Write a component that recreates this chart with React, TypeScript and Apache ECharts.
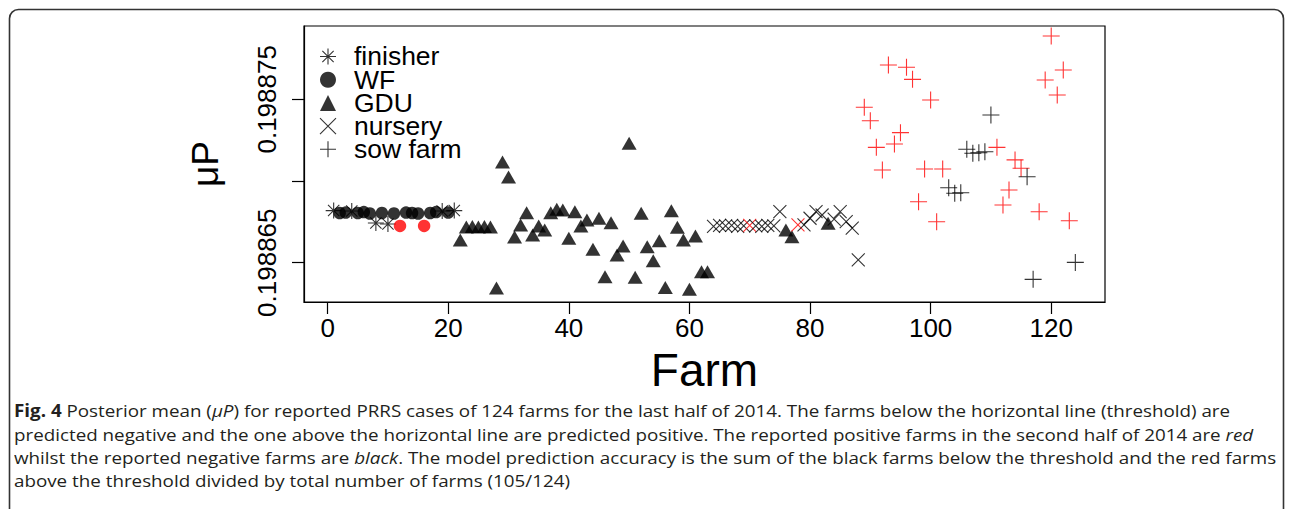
import React, { useEffect, useRef } from 'react';
import * as echarts from 'echarts';

// ---------- data ----------
const categories = ['finisher', 'WF', 'GDU', 'nursery', 'sow farm'];
const xTicks = [0, 20, 40, 60, 80, 100, 120];
const yTicks = [0.198865, 0.19887, 0.198875];
const yTickLabels = [0.198865, 0.198875];
const threshold = 0.19886816;

const finisherFarm = [1, 4, 8, 10, 19, 21];
const finisherMu = [0.19886819, 0.19886816, 0.19886743, 0.19886737, 0.19886816, 0.19886819];
const finisherRed: number[] = [];

const wfFarm = [2, 3, 5, 6, 7, 9, 11, 12, 13, 14, 15, 16, 17, 18, 20];
const wfMu = [0.19886804, 0.19886807, 0.19886804, 0.1988681, 0.19886801, 0.19886804, 0.19886801, 0.19886725,
  0.19886807, 0.19886804, 0.19886801, 0.19886725, 0.19886804, 0.1988681, 0.19886807];
const wfRed = [12, 16];

const gduFarm = [22, 23, 24, 25, 26, 27, 28, 29, 30, 31, 32, 33, 34, 35, 36, 37, 38, 39, 40, 41, 42, 43, 44, 45,
  46, 47, 48, 49, 50, 51, 52, 53, 54, 55, 56, 57, 58, 59, 60, 61, 62, 63, 76, 77, 83];
const gduMu = [0.19886639, 0.19886718, 0.19886722, 0.19886718, 0.19886722, 0.19886718, 0.19886345, 0.19887116,
  0.19887024, 0.19886657, 0.19886731, 0.19886806, 0.1988667, 0.19886725, 0.198867, 0.19886806, 0.19886827,
  0.19886823, 0.19886649, 0.19886812, 0.19886725, 0.19886761, 0.19886582, 0.19886772, 0.19886414, 0.19886745,
  0.19886547, 0.19886602, 0.19887231, 0.19886411, 0.19886802, 0.19886598, 0.19886512, 0.19886635, 0.19886349,
  0.19886818, 0.19886717, 0.19886639, 0.19886337, 0.19886663, 0.19886445, 0.19886445, 0.198867, 0.19886659,
  0.19886741];
const gduRed: number[] = [];

const nurseryFarm = [64, 65, 66, 67, 68, 69, 70, 71, 72, 73, 74, 75, 78, 79, 80, 81, 82, 84, 85, 86, 87, 88];
const nurseryMu = [0.19886722, 0.19886728, 0.19886725, 0.19886728, 0.19886722, 0.19886725, 0.19886728,
  0.19886725, 0.19886722, 0.19886728, 0.19886725, 0.19886812, 0.19886731, 0.19886731, 0.19886772, 0.19886812,
  0.19886792, 0.19886767, 0.19886812, 0.19886751, 0.19886711, 0.19886517];
const nurseryRed = [70, 78];

const sowFarm = [89, 90, 91, 92, 93, 94, 95, 96, 97, 98, 99, 100, 101, 102, 103, 104, 105, 106, 107, 108, 109,
  110, 111, 112, 113, 114, 115, 116, 117, 118, 119, 120, 121, 122, 123, 124];
const sowMu = [0.19887451, 0.19887369, 0.19887206, 0.19887067, 0.1988771, 0.19887226, 0.19887296, 0.19887696,
  0.19887622, 0.19886873, 0.19887073, 0.19887496, 0.19886751, 0.19887073, 0.19886959, 0.19886925, 0.19886928,
  0.19887194, 0.1988717, 0.19887173, 0.19887179, 0.19887404, 0.19887206, 0.19886853, 0.19886945, 0.19887129,
  0.19887078, 0.19887026, 0.19886398, 0.19886812, 0.19887618, 0.19887887, 0.19887526, 0.19887679, 0.19886757,
  0.19886502];
const sowRed = [89, 90, 91, 92, 93, 94, 95, 96, 97, 98, 99, 100, 101, 102, 111, 112, 113, 114, 115, 118, 119,
  120, 121, 122, 123];

// caption lines: [plain | bold | italic] segments
type Seg = { t: string; b?: boolean; i?: boolean };
const captionLines: Seg[][] = [
  [{ t: 'Fig. 4', b: true }, { t: ' Posterior mean (' }, { t: 'μP', i: true },
    { t: ') for reported PRRS cases of 124 farms for the last half of 2014. The farms below the horizontal line (threshold) are' }],
  [{ t: 'predicted negative and the one above the horizontal line are predicted positive. The reported positive farms in the second half of 2014 are ' },
    { t: 'red', i: true }],
  [{ t: 'whilst the reported negative farms are ' }, { t: 'black', i: true },
    { t: '. The model prediction accuracy is the sum of the black farms below the threshold and the red farms' }],
  [{ t: 'above the threshold divided by total number of farms (105/124)' }],
];

// ---------- styling ----------
const RED = '#ff0000';
const FONT = 'Liberation Sans';
const asteriskPath = 'path://M0,7.07L14.14,7.07M7.07,0L7.07,14.14M2.07,2.07L12.07,12.07M2.07,12.07L12.07,2.07';
const plusPath = 'path://M0,5L10,5M5,0L5,10';
const crossPath = 'path://M0,0L10,10M0,10L10,0';

function makeData(farms: number[], mu: number[], red: number[], stroke: boolean) {
  return farms.map((f, i) => ({
    value: [f, mu[i]],
    itemStyle: red.includes(f) ? (stroke ? { borderColor: RED } : { color: RED }) : undefined,
  }));
}

export default function App() {
  const ref = useRef<HTMLDivElement>(null);
  useEffect(() => {
    document.body.style.margin = '0';
    if (!ref.current) return;
    const chart = echarts.init(ref.current, undefined, { renderer: 'svg' });
    const strokeStyle = { color: 'none', borderColor: '#000', borderWidth: 1.1 };
    const fillStyle = { color: '#000', borderWidth: 0 };
    const icons = [asteriskPath, 'circle', 'triangle', crossPath, plusPath];
    const iconStyles = [strokeStyle, fillStyle, fillStyle, strokeStyle, strokeStyle];
    chart.setOption({
      animation: false,
      backgroundColor: 'transparent',
      textStyle: { fontFamily: FONT },
      grid: { left: 304, top: 26, width: 801, height: 276, show: true, borderColor: '#000', borderWidth: 1.2 },
      xAxis: {
        type: 'value', min: -3.92, max: 128.92,
        axisLine: { show: true, onZero: false, lineStyle: { color: '#000', width: 1.2 } },
        axisTick: { show: true, inside: false, length: 12, customValues: xTicks, lineStyle: { color: '#000', width: 1.2 } },
        axisLabel: { customValues: xTicks, fontSize: 26, color: '#000', fontFamily: FONT, margin: 13 },
        splitLine: { show: false },
        name: 'Farm', nameLocation: 'middle', nameGap: 45,
        nameTextStyle: { fontSize: 46, color: '#000', fontFamily: FONT },
      },
      yAxis: {
        type: 'value', min: 0.198862595, max: 0.198879486,
        axisLine: { show: true, onZero: false, lineStyle: { color: '#000', width: 1.2 } },
        axisTick: { show: true, inside: false, length: 12, customValues: yTicks, lineStyle: { color: '#000', width: 1.2 } },
        axisLabel: {
          customValues: yTickLabels, rotate: 90, fontSize: 26, color: '#000', fontFamily: FONT, margin: 24,
          formatter: (v: number) => v.toFixed(6),
        },
        splitLine: { show: false },
        name: 'μP', nameLocation: 'middle', nameGap: 80, nameRotate: 90,
        nameTextStyle: { fontSize: 37, color: '#000', fontFamily: FONT },
      },
      // legend symbols (uniform row height from a blank label); the labels are one text block below
      legend: {
        orient: 'vertical', left: 312.5, top: 38, itemWidth: 16, itemHeight: 16, itemGap: -3.8,
        selectedMode: false,
        formatter: () => ' ',
        textStyle: { fontSize: 26.5, color: '#000', fontFamily: FONT },
        data: categories.map((c, i) => ({ name: c, icon: icons[i], itemStyle: iconStyles[i] })),
      },
      series: [
        {
          type: 'scatter', name: categories[0], symbol: asteriskPath, symbolSize: 16, itemStyle: strokeStyle,
          data: makeData(finisherFarm, finisherMu, finisherRed, true),
          markLine: {
            silent: true, symbol: 'none', label: { show: false },
            lineStyle: { color: '#000', width: 1.2, type: 'solid' },
            data: [{ yAxis: threshold }],
          },
        },
        {
          type: 'scatter', name: categories[1], symbol: 'circle', symbolSize: 12.5, itemStyle: fillStyle,
          data: makeData(wfFarm, wfMu, wfRed, false),
        },
        {
          type: 'scatter', name: categories[2], symbol: 'triangle', symbolSize: [15, 13], itemStyle: fillStyle,
          data: makeData(gduFarm, gduMu, gduRed, false),
        },
        {
          type: 'scatter', name: categories[3], symbol: crossPath, symbolSize: 13, itemStyle: strokeStyle,
          data: makeData(nurseryFarm, nurseryMu, nurseryRed, true),
        },
        {
          type: 'scatter', name: categories[4], symbol: plusPath, symbolSize: 17, itemStyle: strokeStyle,
          data: makeData(sowFarm, sowMu, sowRed, true),
        },
      ],
      graphic: [
        {
          type: 'rect', silent: true, z: -10,
          shape: { x: 9.5, y: 9.5, width: 1274, height: 530, r: 9 },
          style: { fill: 'none', stroke: '#333', lineWidth: 1.6 },
        },
      ],
    });
    return () => chart.dispose();
  }, []);
  return (
    <div style={{ position: 'relative', width: 1292, height: 509, overflow: 'hidden', background: '#fff' }}>
      <div ref={ref} style={{ position: 'absolute', left: 0, top: 0, width: 1292, height: 509 }} />
      <div
        style={{
          position: 'absolute', left: 354, top: 45.4, fontFamily: FONT, fontSize: 26.5,
          lineHeight: '23.2px', color: '#000', whiteSpace: 'pre', pointerEvents: 'none',
        }}
      >
        {categories.join('\n')}
      </div>
      <div
        style={{
          position: 'absolute', left: 14, top: 399.4, fontFamily: 'Open Sans', fontSize: 17,
          lineHeight: '23.2px', color: '#231f20', whiteSpace: 'nowrap',
          transform: 'scaleX(1.105)', transformOrigin: 'left top',
        }}
      >
        {captionLines.map((line, li) => (
          <div key={li}>
            {line.map((s, si) =>
              s.b ? <b key={si}>{s.t}</b> : s.i ? <i key={si}>{s.t}</i> : <span key={si}>{s.t}</span>
            )}
          </div>
        ))}
      </div>
    </div>
  );
}
